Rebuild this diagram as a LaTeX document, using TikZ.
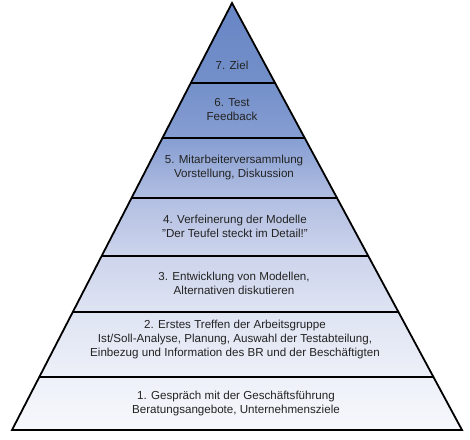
\documentclass[tikz,border=0pt]{standalone}
\usepackage{fontspec}
\setmainfont{Liberation Sans}
\usetikzlibrary{calc}
\definecolor{c0}{RGB}{104,133,197}
\definecolor{c1}{RGB}{116,144,202}
\definecolor{c2}{RGB}{134,158,210}
\definecolor{c3}{RGB}{178,191,226}
\definecolor{c4}{RGB}{205,212,236}
\definecolor{c5}{RGB}{223,228,243}
\definecolor{c6}{RGB}{237,240,248}
\definecolor{c7}{RGB}{247,248,252}
\definecolor{txt}{RGB}{35,35,35}
\begin{document}
\begin{tikzpicture}[x=1pt,y=-1pt,
  lbl/.style={align=center, font=\fontsize{11.6}{14}\selectfont, text=txt, inner sep=0pt},
  edge/.style={line width=1.8pt, line join=miter, line cap=round}]
\useasboundingbox (0,0) rectangle (470,439);
\coordinate (A) at (232,3);
\coordinate (BL) at (12,430);
\coordinate (BR) at (462,430);
\foreach \i/\y in {1/377,2/312,3/256,4/198,5/138,6/83} {
  \coordinate (L\i) at ($(A)!{(\y-3)/427}!(BL)$);
  \coordinate (R\i) at ($(A)!{(\y-3)/427}!(BR)$);
}
% fills
\shade[top color=c0, bottom color=c1] (A) -- (R6) -- (L6) -- cycle;
\shade[top color=c1, bottom color=c2] (L6) -- (R6) -- (R5) -- (L5) -- cycle;
\shade[top color=c2, bottom color=c3] (L5) -- (R5) -- (R4) -- (L4) -- cycle;
\shade[top color=c3, bottom color=c4] (L4) -- (R4) -- (R3) -- (L3) -- cycle;
\shade[top color=c4, bottom color=c5] (L3) -- (R3) -- (R2) -- (L2) -- cycle;
\shade[top color=c5, bottom color=c6] (L2) -- (R2) -- (R1) -- (L1) -- cycle;
\shade[top color=c6, bottom color=c7] (L1) -- (R1) -- (BR) -- (BL) -- cycle;
% lines
\foreach \i in {1,...,6} { \draw[edge] (L\i) -- (R\i); }
\draw[edge] (A) -- (BR) -- (BL) -- cycle;
% texts
\node[lbl] (t7) at (232,65) {7. Ziel};
\node[lbl] (t6) at (232,110) {6. Test\\Feedback};
\node[lbl] (t5) at (234,167) {5. Mitarbeiterversammlung\\Vorstellung, Diskussion};
\node[lbl] (t4) at (235,226) {4. Verfeinerung der Modelle\\"Der Teufel steckt im Detail!"};
\node[lbl] (t3) at (234,283) {3. Entwicklung von Modellen,\\Alternativen diskutieren};
\node[lbl] (t2) at (235,339) {2. Erstes Treffen der Arbeitsgruppe\\Ist/Soll-Analyse, Planung, Auswahl der Testabteilung,\\Einbezug und Information des BR und der Beschäftigten};
\node[lbl] (t1) at (236,403) {1. Gespräch mit der Geschäftsführung\\Beratungsangebote, Unternehmensziele};
\end{tikzpicture}
\end{document}
